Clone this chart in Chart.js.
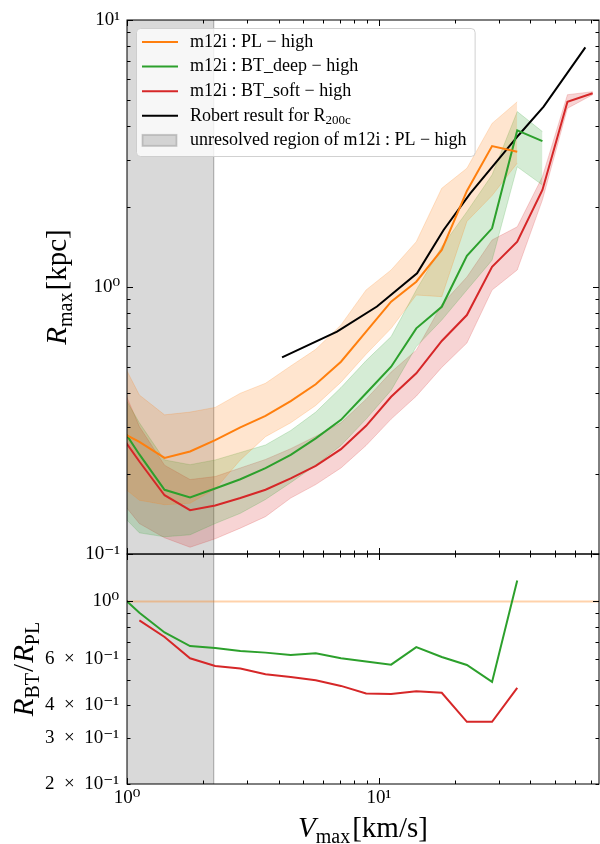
<!DOCTYPE html>
<html>
<head>
<meta charset="utf-8">
<title>Rmax vs Vmax</title>
<script src="https://cdn.jsdelivr.net/npm/chart.js@4.4.1/dist/chart.umd.min.js"></script>
<style>
  html, body { margin: 0; padding: 0; background: #fff; }
  #wrap { position: relative; width: 600px; height: 844px; }
  canvas { position: absolute; left: 0; }
  #ratioChart { top: 540px; }
  #rmaxChart { top: 0; }
</style>
</head>
<body>
<div id="wrap">
  <canvas id="ratioChart" width="600" height="304"></canvas>
  <canvas id="rmaxChart" width="600" height="575"></canvas>
</div>
<script>
// ---- values ----
const vmax = [0.89, 1.12, 1.41, 1.78, 2.24, 2.82, 3.55, 4.47, 5.62, 7.08, 8.91, 11.2, 14.1, 17.8, 22.4, 28.2, 35.5, 44.7, 56.2, 70.8];

// m12i : PL - high
const plMid = [0.295, 0.263, 0.229, 0.242, 0.267, 0.298, 0.329, 0.374, 0.432, 0.525, 0.680, 0.881, 1.047, 1.376, 2.29, 3.37, 3.21];
const plHi  = [0.60, 0.394, 0.332, 0.340, 0.354, 0.400, 0.436, 0.506, 0.584, 0.721, 0.975, 1.158, 1.478, 2.343, 2.784, 4.10, 4.94];
const plLo  = [0.189, 0.159, 0.153, 0.155, 0.175, 0.225, 0.275, 0.31, 0.36, 0.44, 0.56, 0.70, 0.933, 0.92, 1.76, 2.2, 2.91];

// m12i : BT_deep - high
const deepMid = [0.328, 0.236, 0.174, 0.163, 0.176, 0.1905, 0.2096, 0.235, 0.271, 0.318, 0.400, 0.503, 0.700, 0.843, 1.308, 1.658, 3.86, 3.52];
const deepHi  = [0.45, 0.31, 0.225, 0.216, 0.225, 0.24, 0.256, 0.29, 0.34, 0.42, 0.53, 0.652, 0.975, 1.416, 1.914, 2.63, 4.54, 3.82];
const deepLo  = [0.15, 0.12, 0.116, 0.118, 0.13, 0.142, 0.16, 0.185, 0.215, 0.255, 0.32, 0.41, 0.598, 0.752, 0.974, 1.26, 2.82, 2.41];

// m12i : BT_soft - high
const softMid = [0.302, 0.222, 0.166, 0.146, 0.152, 0.162, 0.174, 0.192, 0.214, 0.247, 0.302, 0.388, 0.475, 0.628, 0.785, 1.191, 1.478, 2.31, 4.94, 5.32];
const softHi  = [0.50, 0.30, 0.215, 0.19, 0.195, 0.21, 0.226, 0.248, 0.276, 0.31, 0.38, 0.48, 0.58, 0.86, 1.09, 1.50, 1.68, 2.59, 5.25, 5.39];
const softLo  = [0.17, 0.13, 0.115, 0.106, 0.114, 0.125, 0.138, 0.162, 0.182, 0.21, 0.255, 0.32, 0.39, 0.50, 0.617, 0.974, 1.158, 2.12, 4.67, 5.25];

// Robert result for R200c
const robertV = [4.13, 6.83, 9.84, 14.2, 18.1, 23.1, 36.0, 45.2, 66.2];
const robertR = [0.545, 0.680, 0.845, 1.125, 1.635, 2.24, 3.71, 4.74, 7.90];

// lower panel: R_BT / R_PL
const ratioDeep = [1.11, 0.905, 0.761, 0.675, 0.663, 0.646, 0.637, 0.624, 0.633, 0.606, 0.589, 0.573, 0.669, 0.613, 0.571, 0.492, 1.203];
const ratioSoft = [null, 0.846, 0.731, 0.606, 0.566, 0.554, 0.526, 0.514, 0.499, 0.475, 0.444, 0.442, 0.453, 0.447, 0.346, 0.346, 0.467];
const ratioRef = 1;

// unresolved region of PL
const unresolvedV = 2.21;

// axes
const xRange = [1, 75];
const topYRange = [0.1, 10];
const ratioYRange = [0.2, 1.52];
const xMajor = [1, 10];
const xMajorText = ['10⁰', '10¹'];
const xMinor = [2, 3, 4, 5, 6, 7, 8, 9, 20, 30, 40, 50, 60, 70];
const topYMajor = [0.1, 1, 10];
const topYText = ['10⁻¹', '10⁰', '10¹'];
const topYMinor = [0.2, 0.3, 0.4, 0.5, 0.6, 0.7, 0.8, 0.9, 2, 3, 4, 5, 6, 7, 8, 9];
const ratioYMajor = [1];
const ratioYMinor = [0.2, 0.3, 0.4, 0.5, 0.6, 0.7, 0.8, 0.9];
const ratioYLabelAt = [0.2, 0.3, 0.4, 0.6, 1];
const ratioYText = ['2\u2002×\u200210⁻¹', '3\u2002×\u200210⁻¹', '4\u2002×\u200210⁻¹', '6\u2002×\u200210⁻¹', '10⁰'];

const legendNames = ['m12i : PL − high', 'm12i : BT_deep − high', 'm12i : BT_soft − high', 'Robert result for R', 'unresolved region of m12i : PL − high'];

// ---- styling ----
const ORANGE = '#ff7f0e', GREEN = '#2ca02c', RED = '#d62728', BLACK = '#000000';
const SERIF = '"Liberation Serif", "DejaVu Serif", serif';
const pts = (xs, ys) => xs.map((v, i) => ({ x: v, y: ys[i] })).filter(p => p.y != null);

function fade(hex, a) {
  const n = parseInt(hex.slice(1), 16);
  return `rgba(${n >> 16},${(n >> 8) & 255},${n & 255},${a})`;
}

function line(data, color, extra) {
  return Object.assign({ data, borderColor: color, borderWidth: 2, fill: false, order: 0 }, extra || {});
}

function band(hi, lo, color) {
  return [
    { data: pts(vmax, hi), borderColor: fade(color, 0.2), backgroundColor: fade(color, 0.2), borderWidth: 1, fill: '+1', order: 1 },
    { data: pts(vmax, lo), borderColor: fade(color, 0.2), borderWidth: 1, fill: false, order: 1 }
  ];
}

function grayRegion(yr) {
  return {
    data: [{ x: xRange[0], y: yr[1] }, { x: unresolvedV, y: yr[1] }, { x: unresolvedV, y: yr[0] }],
    borderColor: 'rgba(128,128,128,0.3)', backgroundColor: 'rgba(128,128,128,0.3)',
    borderWidth: 1, fill: 'start', order: 3
  };
}

// fixed-width y axis; no extra label padding so the panels line up exactly
const fixY = s => { s.width = 127; s.paddingTop = 0; s.paddingBottom = 0; };

// inward ticks on all four sides plus the frame
const frameTicks = {
  id: 'frameTicks',
  afterDatasetsDraw(chart, args, o) {
    const { ctx, chartArea: a } = chart;
    const x = chart.scales.x, y = chart.scales.y;
    ctx.save();
    ctx.strokeStyle = '#000';
    ctx.lineWidth = 1;
    ctx.beginPath();
    const onX = (vals, len) => vals.forEach(v => {
      const px = Math.round(x.getPixelForValue(v)) + 0.5;
      if (px < a.left - 1 || px > a.right + 1) return;
      ctx.moveTo(px, a.bottom); ctx.lineTo(px, a.bottom - len);
      ctx.moveTo(px, a.top); ctx.lineTo(px, a.top + len);
    });
    const onY = (vals, len) => vals.forEach(v => {
      const py = Math.round(y.getPixelForValue(v)) + 0.5;
      if (py < a.top - 1 || py > a.bottom + 1) return;
      ctx.moveTo(a.left, py); ctx.lineTo(a.left + len, py);
      ctx.moveTo(a.right, py); ctx.lineTo(a.right - len, py);
    });
    onX(o.xMajor, 6); onX(o.xMinor, 3.5);
    onY(o.yMajor, 6); onY(o.yMinor, 3.5);
    ctx.stroke();
    ctx.strokeRect(a.left, a.top, a.right - a.left, a.bottom - a.top);
    ctx.restore();
  }
};

// axis titles with italic symbols and subscripts
function drawMath(ctx, parts, cx, cy, rotate) {
  const fontOf = p => (p.i ? 'italic ' : '') + (p.sub ? 20 : 29) + 'px ' + SERIF;
  ctx.save();
  ctx.translate(cx, cy);
  if (rotate) ctx.rotate(-Math.PI / 2);
  ctx.fillStyle = '#000';
  ctx.textBaseline = 'alphabetic';
  let total = 0;
  parts.forEach(p => { ctx.font = fontOf(p); total += ctx.measureText(p.t).width + (p.gap || 0); });
  let px = -total / 2;
  parts.forEach(p => {
    ctx.font = fontOf(p);
    ctx.fillText(p.t, px, p.sub ? 6 : 0);
    px += ctx.measureText(p.t).width + (p.gap || 0);
  });
  ctx.restore();
}

const mathTitles = {
  id: 'mathTitles',
  afterDraw(chart, args, o) {
    const a = chart.chartArea;
    (o.items || []).forEach(it => {
      const cx = it.rotate ? it.at : (a.left + a.right) / 2;
      const cy = it.rotate ? (a.top + a.bottom) / 2 : a.bottom + it.at;
      drawMath(chart.ctx, it.parts, cx, cy, it.rotate);
    });
  }
};

// matplotlib-like legend box in the upper left of the plot
const paperLegend = {
  id: 'paperLegend',
  afterDraw(chart, args, o) {
    const { ctx, chartArea: a } = chart;
    const x0 = a.left + 9, y0 = a.top + 8, rowH = 24.6, textX = x0 + 54;
    const F = '18px ' + SERIF, FS = '13px ' + SERIF;
    ctx.save();
    ctx.font = F;
    let maxW = 0;
    o.entries.forEach(e => {
      let w = ctx.measureText(e.text).width;
      if (e.sub) { ctx.font = FS; w += ctx.measureText(e.sub).width; ctx.font = F; }
      maxW = Math.max(maxW, w);
    });
    const w = textX - x0 + maxW + 8, h = o.entries.length * rowH + 5;
    ctx.beginPath();
    ctx.roundRect(x0 + 0.5, y0 + 0.5, w, h, 4);
    ctx.fillStyle = 'rgba(255,255,255,0.8)';
    ctx.fill();
    ctx.strokeStyle = 'rgba(204,204,204,0.9)';
    ctx.lineWidth = 1;
    ctx.stroke();
    o.entries.forEach((e, i) => {
      const cy = y0 + 14 + i * rowH;
      if (e.patch) {
        ctx.fillStyle = e.color;
        ctx.fillRect(x0 + 6, cy - 6, 35, 12);
        ctx.strokeStyle = e.color;
        ctx.strokeRect(x0 + 6.5, cy - 5.5, 34, 11);
      } else {
        ctx.beginPath();
        ctx.strokeStyle = e.color;
        ctx.lineWidth = 2;
        ctx.moveTo(x0 + 6, cy);
        ctx.lineTo(x0 + 42, cy);
        ctx.stroke();
      }
      ctx.fillStyle = '#000';
      ctx.textBaseline = 'middle';
      ctx.font = F;
      ctx.fillText(e.text, textX, cy);
      if (e.sub) {
        const tw = ctx.measureText(e.text).width;
        ctx.font = FS;
        ctx.fillText(e.sub, textX + tw, cy + 5);
      }
    });
    ctx.restore();
  }
};

const tickFont = { family: SERIF, size: 19 };

// ---- upper panel ----
new Chart(document.getElementById('rmaxChart').getContext('2d'), {
  type: 'line',
  data: {
    datasets: [
      line(pts(vmax, plMid), ORANGE),
      line(pts(vmax, deepMid), GREEN),
      line(pts(vmax, softMid), RED),
      line(pts(robertV, robertR), BLACK),
      ...band(plHi, plLo, ORANGE),
      ...band(deepHi, deepLo, GREEN),
      ...band(softHi, softLo, RED),
      grayRegion(topYRange)
    ]
  },
  options: {
    responsive: false,
    animation: false,
    devicePixelRatio: 1,
    layout: { padding: { left: 0, top: 20, right: 1, bottom: 21 } },
    elements: { point: { radius: 0 }, line: { tension: 0 } },
    scales: {
      x: { type: 'logarithmic', min: xRange[0], max: xRange[1], display: false },
      y: {
        type: 'logarithmic', min: topYRange[0], max: topYRange[1],
        grid: { display: false, drawTicks: false },
        border: { display: false },
        afterBuildTicks: s => { s.ticks = topYMajor.map(v => ({ value: v })); },
        afterFit: fixY,
        ticks: { autoSkip: false, padding: 7, color: '#000', font: tickFont, callback: (v, i) => topYText[i] }
      }
    },
    plugins: {
      legend: { display: false },
      tooltip: { enabled: false },
      frameTicks: { xMajor, xMinor, yMajor: topYMajor, yMinor: topYMinor },
      mathTitles: { items: [{ rotate: true, at: 66, parts: [{ t: 'R', i: true }, { t: 'max', sub: true, gap: 2 }, { t: '[kpc]' }] }] },
      paperLegend: {
        entries: [
          { text: legendNames[0], color: ORANGE },
          { text: legendNames[1], color: GREEN },
          { text: legendNames[2], color: RED },
          { text: legendNames[3], sub: '200c', color: BLACK },
          { text: legendNames[4], patch: true, color: 'rgba(128,128,128,0.3)' }
        ]
      }
    }
  },
  plugins: [frameTicks, mathTitles, paperLegend]
});

// ---- lower panel ----
new Chart(document.getElementById('ratioChart').getContext('2d'), {
  type: 'line',
  data: {
    datasets: [
      line(pts(vmax, ratioDeep), GREEN),
      line(pts(vmax, ratioSoft), RED),
      line([{ x: xRange[0], y: ratioRef }, { x: xRange[1], y: ratioRef }], fade(ORANGE, 0.35), { order: 1 }),
      grayRegion(ratioYRange)
    ]
  },
  options: {
    responsive: false,
    animation: false,
    devicePixelRatio: 1,
    layout: { padding: { left: 0, top: 14, right: 1, bottom: 0 } },
    elements: { point: { radius: 0 }, line: { tension: 0 } },
    scales: {
      x: {
        type: 'logarithmic', min: xRange[0], max: xRange[1],
        grid: { display: false, drawTicks: false },
        border: { display: false },
        afterBuildTicks: s => { s.ticks = xMajor.map(v => ({ value: v })); },
        afterFit: s => { s.height = 60; },
        ticks: { autoSkip: false, maxRotation: 0, padding: 3, color: '#000', font: tickFont, callback: (v, i) => xMajorText[i] }
      },
      y: {
        type: 'logarithmic', min: ratioYRange[0], max: ratioYRange[1],
        grid: { display: false, drawTicks: false },
        border: { display: false },
        afterBuildTicks: s => { s.ticks = ratioYLabelAt.map(v => ({ value: v })); },
        afterFit: fixY,
        ticks: { autoSkip: false, padding: 8, color: '#000', font: tickFont, callback: (v, i) => ratioYText[i] }
      }
    },
    plugins: {
      legend: { display: false },
      tooltip: { enabled: false },
      frameTicks: { xMajor, xMinor, yMajor: ratioYMajor, yMinor: ratioYMinor },
      mathTitles: {
        items: [
          { rotate: true, at: 33, parts: [{ t: 'R', i: true }, { t: 'BT', sub: true, gap: 1 }, { t: '/', gap: 1 }, { t: 'R', i: true }, { t: 'PL', sub: true }] },
          { rotate: false, at: 53, parts: [{ t: 'V', i: true }, { t: 'max', sub: true, gap: 2 }, { t: '[km/s]' }] }
        ]
      }
    }
  },
  plugins: [frameTicks, mathTitles]
});
</script>
</body>
</html>
